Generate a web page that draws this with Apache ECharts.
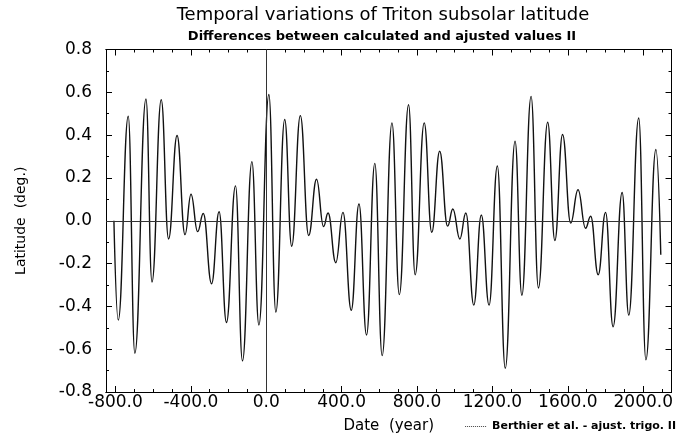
<!DOCTYPE html>
<html>
<head>
<meta charset="utf-8">
<script src="https://cdn.jsdelivr.net/npm/echarts@6/dist/echarts.min.js"></script>
<style>
html,body{margin:0;padding:0;background:#fff;}
#chart{width:676px;height:439px;}
</style>
</head>
<body>
<div id="chart"></div>
<script>
// Extrema of the curve (year, latitude difference in deg.)
var years = [-808,-785,-732,-697,-638,-606,-557,-518,-473,-431,-399,-364,-334,-290,-250,-211,-163,-126,-76,-39,
  14,51,98,135,181,225,267,304,328,369,407,451,492,532,576,615,667,706,755,790,838,878,920,962,990,
  1027,1059,1101,1141,1182,1226,1268,1320,1356,1405,1444,1493,1531,1572,1615,1654,1694,1721,1761,1800,
  1840,1888,1923,1976,2014,2067,2093];
var latitude = [0.00,-0.464,0.488,-0.619,0.569,-0.286,0.565,-0.085,0.398,-0.065,0.124,-0.051,0.034,-0.294,0.042,-0.475,0.163,-0.655,0.276,-0.487,
  0.590,-0.427,0.473,-0.119,0.491,-0.069,0.194,-0.027,0.036,-0.196,0.039,-0.418,0.078,-0.534,0.268,-0.630,0.457,-0.345,0.542,-0.252,0.457,-0.054,0.325,-0.025,0.055,
  -0.085,0.036,-0.394,0.027,-0.394,0.256,-0.689,0.372,-0.348,0.581,-0.314,0.460,-0.092,0.403,-0.011,0.145,-0.035,0.021,-0.252,0.039,
  -0.495,0.132,-0.441,0.480,-0.650,0.333,-0.159];
var xMajorTicks = [-800,-400,0,400,800,1200,1600,2000];
var xMinorTicks = [-800,-700,-600,-500,-400,-300,-200,-100,0,100,200,300,400,500,600,700,800,900,1000,1100,1200,1300,1400,1500,1600,1700,1800,1900,2000,2100];
var seriesName = 'Berthier et al. - ajust. trigo. II';
var titleText = 'Temporal variations of Triton subsolar latitude';
var subtitleText = 'Differences between calculated and ajusted values II';

var FONT = 'DejaVu Sans';
var data = years.map(function (y, i) { return [y, latitude[i]]; });

function xAxisBase(pos) {
  return {
    type: 'value', position: pos, min: -850, max: 2150,
    splitLine: {show: false},
    axisLine: {show: true, onZero: false, lineStyle: {color: '#000', width: 1}},
    axisLabel: {show: false}
  };
}
var xa0 = xAxisBase('bottom');
xa0.axisTick = {show: true, inside: true, length: 6, customValues: xMajorTicks, lineStyle: {color: '#000'}};
xa0.axisLabel = {show: true, customValues: xMajorTicks, margin: 2, color: '#000', fontFamily: FONT, fontSize: 17,
  formatter: function (v) { return v.toFixed(1); }};
xa0.name = 'Date  (year)';
xa0.nameLocation = 'middle';
xa0.nameGap = 27;
xa0.nameTextStyle = {color: '#000', fontFamily: FONT, fontSize: 15};
var xa1 = xAxisBase('bottom');
xa1.axisTick = {show: true, inside: true, length: 3, customValues: xMinorTicks, lineStyle: {color: '#000'}};
var xa2 = xAxisBase('top');
xa2.axisTick = {show: true, inside: true, length: 6, customValues: xMajorTicks, lineStyle: {color: '#000'}};
var xa3 = xAxisBase('top');
xa3.axisTick = {show: true, inside: true, length: 3, customValues: xMinorTicks, lineStyle: {color: '#000'}};

function yAxisBase(pos) {
  return {
    type: 'value', position: pos, min: -0.8, max: 0.8, interval: 0.2,
    splitLine: {show: false},
    axisLine: {show: true, onZero: false, lineStyle: {color: '#000', width: 1}},
    axisTick: {show: true, inside: true, length: 6, lineStyle: {color: '#000'}},
    minorTick: {show: true, splitNumber: 2, length: 3, lineStyle: {color: '#000'}},
    axisLabel: {show: false}
  };
}
var ya0 = yAxisBase('left');
ya0.axisLabel = {show: true, margin: 14, color: '#000', fontFamily: FONT, fontSize: 17,
  formatter: function (v) { return v.toFixed(1); }};
ya0.name = 'Latitude  (deg.)';
ya0.nameLocation = 'middle';
ya0.nameGap = 78;
ya0.nameTextStyle = {color: '#000', fontFamily: FONT, fontSize: 14};
var ya1 = yAxisBase('right');

var chart = echarts.init(document.getElementById('chart'), null, {renderer: 'canvas'});
chart.setOption({
  animation: false,
  backgroundColor: '#fff',
  title: [
    {text: titleText, left: 383, top: 6, textAlign: 'center', padding: 0,
      textStyle: {fontFamily: FONT, fontSize: 18, fontWeight: 'normal', color: '#000'}},
    {text: subtitleText, left: 382, top: 30, textAlign: 'center', padding: 0,
      textStyle: {fontFamily: FONT, fontSize: 13, fontWeight: 'bold', color: '#000'}}
  ],
  legend: {
    right: 0, top: 421, padding: 0, itemWidth: 22, itemHeight: 8,
    itemStyle: {opacity: 0},
    lineStyle: {type: 'dotted', color: '#444', width: 1},
    textStyle: {fontFamily: FONT, fontSize: 11, fontWeight: 'bold', color: '#000'},
    data: [seriesName]
  },
  grid: {left: 106, right: 1, top: 49.5, bottom: 45, containLabel: false},
  xAxis: [xa0, xa1, xa2, xa3],
  yAxis: [ya0, ya1],
  series: [{
    name: seriesName,
    type: 'line',
    xAxisIndex: 0, yAxisIndex: 0,
    data: data,
    showSymbol: false, symbol: 'none',
    smooth: 0.45, smoothMonotone: 'x',
    itemStyle: {color: '#111'},
    lineStyle: {color: '#111', width: 1.4},
    markLine: {
      silent: true, symbol: 'none', animation: false,
      label: {show: false},
      lineStyle: {color: '#333', width: 1, type: 'solid'},
      data: [{xAxis: 0}, {yAxis: 0}]
    }
  }]
});
</script>
</body>
</html>
